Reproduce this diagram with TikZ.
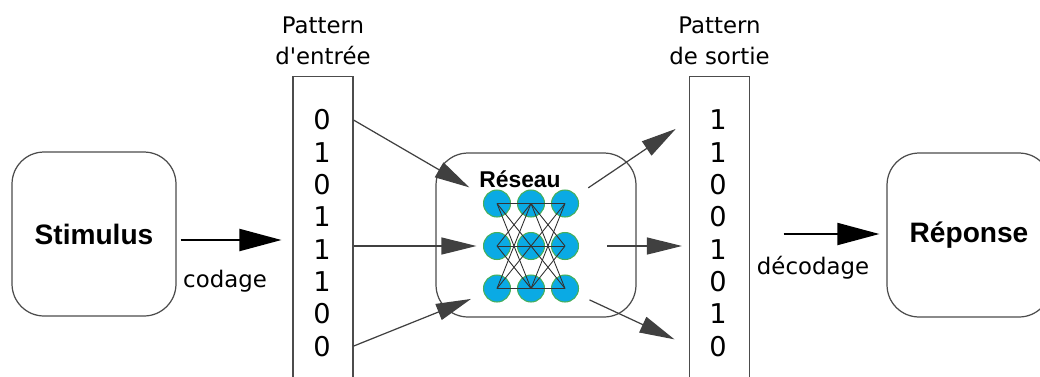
\documentclass[tikz,border=0pt]{standalone}
\usepackage{fontspec}
\setmainfont{DejaVu Sans}
\newfontfamily\plainfont{DejaVu Sans}
\newfontfamily\boxfont{Liberation Sans}
\usetikzlibrary{arrows.meta,positioning}

\definecolor{rim}{gray}{0.3}
\definecolor{neuron}{RGB}{10,170,228}
\definecolor{neuronrim}{RGB}{70,175,90}

\begin{document}
\begin{tikzpicture}[x=0.02cm,y=-0.02cm,
  bloc/.style={draw=rim,line width=0.7pt,rounded corners=0.64cm,
    minimum width=3.28cm,minimum height=3.28cm},
  bloclab/.style={font=\boxfont\bfseries\fontsize{16}{19}\selectfont},
  col/.style={draw=rim,line width=0.6pt,minimum width=1.2cm,minimum height=6.32cm},
  title/.style={align=center,inner sep=0pt,font=\plainfont\fontsize{13}{17.6}\selectfont},
  bit/.style={inner sep=0pt,font=\fontsize{15.5}{18}\selectfont},
  lab/.style={font=\fontsize{13}{16}\selectfont},
  neuron/.style={circle,fill=neuron,draw=neuronrim,line width=0.6pt,
    minimum size=0.54cm,inner sep=0pt},
  link/.style={draw=black!80,line width=0.5pt},
  arr/.style={draw=black!75,line width=0.7pt,-{Triangle[length=7mm,width=3.4mm]}},
  bigarr/.style={draw=black,line width=1.1pt,-{Triangle[length=8.4mm,width=4.4mm]}}]

\useasboundingbox (0,0) rectangle (1040,376);

% stimulus, network and response blocks
\node[bloc] (stim) at (94,234) {};
\node[bloclab] at (stim) {Stimulus};
\node[bloc,minimum width=4cm] (net) at (536,235) {};
\node[bloclab,font=\boxfont\bfseries\fontsize{13}{16}\selectfont,anchor=base] (reslab) at (520,187) {Réseau};
\node[bloc] (rep) at (969,235) {};
\node[bloclab] at (rep) {Réponse};

% input and output patterns
\node[col] (inpat) at (323,234) {};
\node[col] (outpat) at (719.5,234) {};
\node[title,above=0.2cm of inpat] (intitle) {Pattern\\d'entrée};
\node[title,above=0.2cm of outpat] (outtitle) {Pattern\\de sortie};

\foreach \b [count=\i from 0] in {0,1,0,1,1,1,0,0}
  \node[bit] (in\i) at (322,{120+32.3*\i}) {\b};
\foreach \b [count=\i from 0] in {1,1,0,0,1,0,1,0}
  \node[bit] (out\i) at (718,{120+32.3*\i}) {\b};

% the 3x3 neurons
\foreach \r in {1,2,3}
  \foreach \c in {1,2,3}
    \node[neuron] (n\r\c) at ({463+34*\c},{161+42.5*\r}) {};

\foreach \r in {1,2,3}
  \foreach \s in {1,2,3} {
    \draw[link] (n\r1.center) -- (n\s2.center);
    \draw[link] (n\r2.center) -- (n\s3.center);
  }

% coding / decoding
\draw[bigarr,shorten <=0.08cm,shorten >=0.22cm] ([yshift=-1.2mm]stim.east) -- ([yshift=-1.2mm]stim.east -| inpat.west);
\node[lab] (cod) at (225,281) {codage};
\draw[bigarr,shorten <=0.67cm,shorten >=0.14cm] (outpat.east) -- (outpat.east -| rep.west);
\node[lab] (decod) at (813,268) {décodage};

% pattern to network and back
\draw[arr,shorten >=0.36cm] (in0.east -| inpat.east) -- (n11);
\draw[arr,shorten >=0.13cm] (n21 -| inpat.east) -- (n21);
\draw[arr,shorten >=0.28cm] (in7.east -| inpat.east) -- (n31);
\draw[arr,shorten <=0.28cm,shorten >=0.32cm] (n13) -- (out0 -| outpat.west);
\draw[arr,shorten <=0.56cm,shorten >=0.14cm] (n23) -- (n23 -| outpat.west);
\draw[arr,shorten <=0.26cm,shorten >=0.32cm] (n33) -- (out7 -| outpat.west);

\end{tikzpicture}
\end{document}
